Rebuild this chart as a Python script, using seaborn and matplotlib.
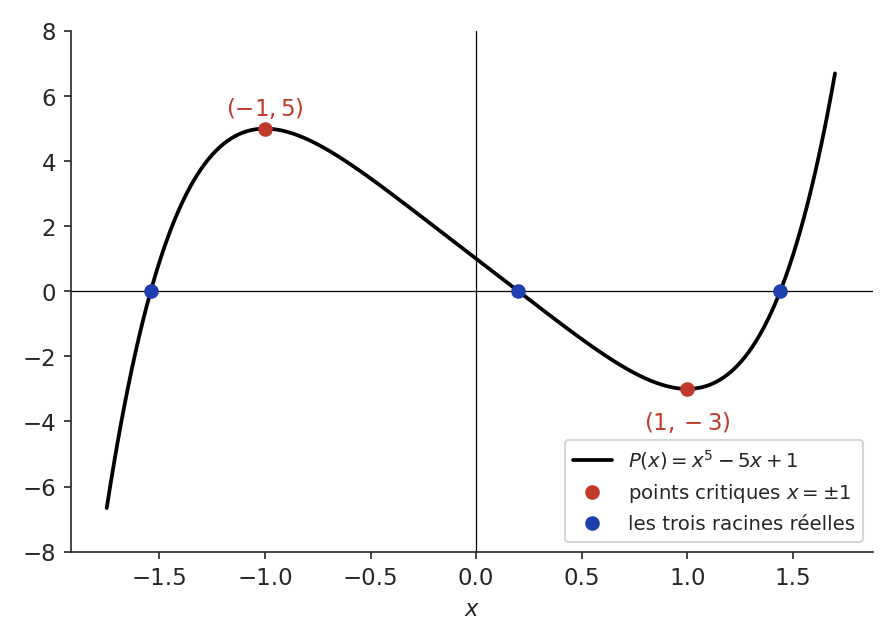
import numpy as np
import pandas as pd
import matplotlib
matplotlib.use("Agg")
import matplotlib.pyplot as plt
import seaborn as sns

# polynomial coefficients of P(x) = x^5 - 5x + 1 (highest degree first)
COEFFS = [1, 0, 0, 0, -5, 1]
X_RANGE = (-1.75, 1.70)

crit_x = [-1, 1]
crit_y = [5, -3]
crit_labels = ["$(-1, 5)$", "$(1, -3)$"]

root_x = [-1.5416, 0.2000, 1.4405]
root_y = [0, 0, 0]

RED = "#c0392b"
BLUE = "#1f3fae"

sns.set_style("ticks")

xs = np.linspace(X_RANGE[0], X_RANGE[1], 400)
curve = pd.DataFrame({"x": xs, "y": np.polyval(COEFFS, xs)})

fig, ax = plt.subplots(figsize=(5.97, 4.29), dpi=150)
ax.axhline(0, color="black", linewidth=0.6, zorder=1)
ax.axvline(0, color="black", linewidth=0.6, zorder=1)

sns.lineplot(data=curve, x="x", y="y", ax=ax, color="black", linewidth=1.8,
             label="$P(x) = x^5 - 5x + 1$", zorder=2)
ax.plot(crit_x, crit_y, "o", color=RED, markersize=6, zorder=3,
        label="points critiques $x = \\pm 1$")
ax.plot(root_x, root_y, "o", color=BLUE, markersize=6, zorder=3,
        label="les trois racines réelles")

for cx, cy, lab in zip(crit_x, crit_y, crit_labels):
    off = 10 if cy > 0 else -16
    ax.annotate(lab, (cx, cy), textcoords="offset points", xytext=(0, off),
                ha="center", va="center", color=RED, fontsize=11)

ax.set_xlim(-1.92, 1.88)
ax.set_ylim(-8, 8)
ax.set_yticks(range(-8, 9, 2))
ax.set_xlabel("$x$", fontsize=11)
ax.set_ylabel("")
ax.tick_params(labelsize=11)
sns.despine(ax=ax)
ax.legend(loc="lower right", fontsize=9.5)

plt.tight_layout()
plt.savefig("out.png", dpi=150)
